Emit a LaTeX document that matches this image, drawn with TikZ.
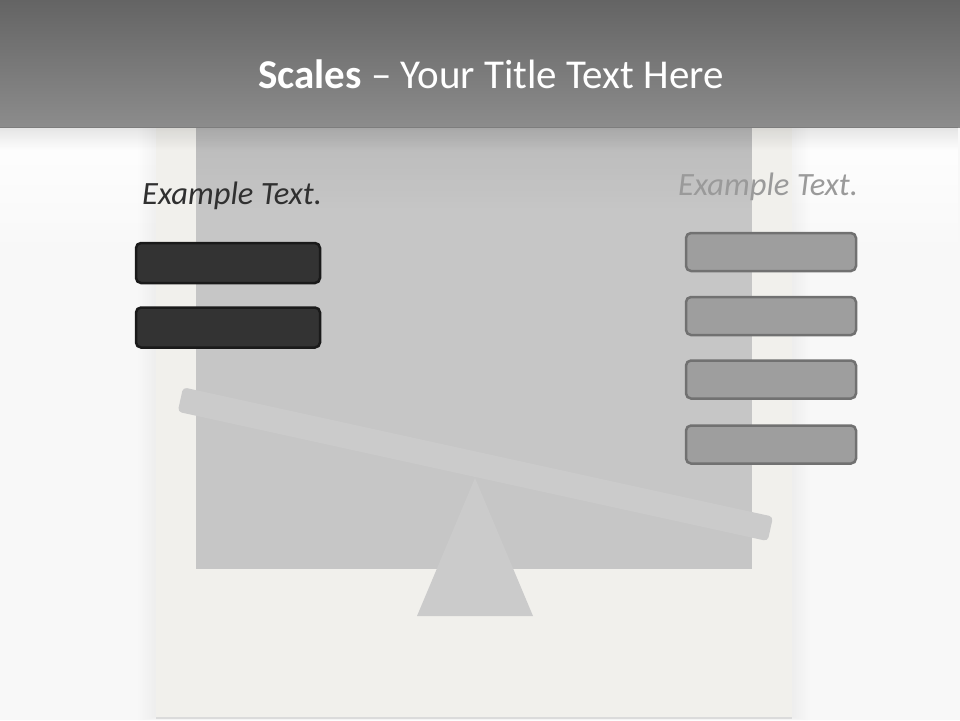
\documentclass[tikz,border=0pt]{standalone}
\usepackage{fontspec}
\setmainfont{Carlito}
\usetikzlibrary{fadings}
\tikzfading[name=topfade, top color=transparent!0, bottom color=transparent!100]
\definecolor{pagebg}{HTML}{F8F8F8}
\definecolor{headtop}{HTML}{646464}
\definecolor{headbot}{HTML}{8C8C8C}
\definecolor{paper}{HTML}{F1F0EC}
\definecolor{innergray}{HTML}{C6C6C6}
\definecolor{beamgray}{HTML}{CBCBCB}
\definecolor{darkfill}{HTML}{333333}
\definecolor{darkline}{HTML}{1A1A1A}
\definecolor{midfill}{HTML}{9E9E9E}
\definecolor{midline}{HTML}{717171}
\definecolor{lighttext}{HTML}{9A9A9A}
\definecolor{darktext}{HTML}{303030}
\tikzset{
  darkbox/.style={draw=darkline, fill=darkfill, line width=2.5pt, rounded corners=5pt,
    minimum width=184pt, minimum height=40pt, inner sep=0pt},
  lightbox/.style={draw=midline, fill=midfill, line width=2.5pt, rounded corners=5pt,
    minimum width=170pt, minimum height=38pt, inner sep=0pt},
  exlabel/.style={font=\fontsize{32.5}{38}\selectfont\itshape, inner sep=0pt, anchor=base west},
  beamstyle/.style={fill=beamgray, rounded corners=4pt, minimum width=604pt, minimum height=25pt, inner sep=0pt}
}
\begin{document}
\begin{tikzpicture}[x=1pt,y=-1pt]
\useasboundingbox (0,0) rectangle (960,720);
\fill[pagebg] (0,0) rectangle (960,720);
\fill[white, path fading=topfade] (0,127) rectangle (960,260);
% frame shadow
\foreach \i in {1,...,10}{
  \fill[black, opacity=0.005] (156-1.8*\i,127) rectangle (792+1.8*\i,717+0.4*\i);
}
\fill[black!14] (156,127) rectangle (792,719);
\fill[paper] (156,127) rectangle (792,717);
\fill[innergray] (196,127) rectangle (752,569);
\fill[black, opacity=0.06, path fading=topfade] (196,127) rectangle (752,210);
% fulcrum
\coordinate (apex) at (475,478);
\coordinate (baseL) at (417,616);
\coordinate (baseR) at (533,616);
\fill[beamgray] (apex) -- (baseR) -- (baseL) -- cycle;
% beam
\node[beamstyle, rotate=-12.37] (beam) at (475.4,464.2) {};
% header
\shade[top color=headtop, bottom color=headbot] (0,0) rectangle (960,127);
\fill[black, opacity=0.1, path fading=topfade] (0,127) rectangle (960,150);
\node[anchor=base, text=white, font=\fontsize{41}{50}\selectfont, inner sep=0pt] (title) at (491,88)
  {\textbf{Scales} – Your Title Text Here};
% left side
\node[exlabel, text=darktext] (lefttext) at (142,204) {Example Text.};
\node[darkbox] (l1) at (228,263) {};
\node[darkbox] (l2) at (228,327.5) {};
% right side
\node[exlabel, text=lighttext] (righttext) at (678,195) {Example Text.};
\node[lightbox] (r1) at (771,252) {};
\node[lightbox] (r2) at (771,316) {};
\node[lightbox] (r3) at (771,379.5) {};
\node[lightbox] (r4) at (771,444.5) {};
\end{tikzpicture}
\end{document}
